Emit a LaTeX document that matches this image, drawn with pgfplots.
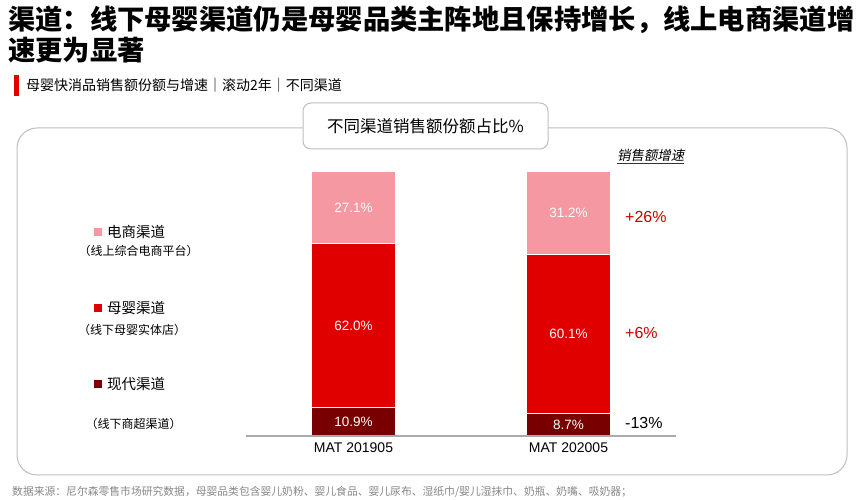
\documentclass[border=0pt]{standalone}
\usepackage{pgfplots}
\pgfplotsset{compat=1.18}
\usepackage{fontspec}
\setmainfont{Liberation Sans}
\newfontfamily\cjk{Noto Sans CJK SC}
\newfontfamily\cjkit{Noto Sans CJK SC}[FakeSlant=0.2]
\definecolor{cpink}{RGB}{245,152,162}
\definecolor{cred}{RGB}{224,0,0}
\definecolor{cdark}{RGB}{120,0,0}
\definecolor{cgrowth}{RGB}{204,0,0}
\definecolor{cframe}{RGB}{190,190,190}
\definecolor{caxis}{RGB}{170,170,170}
\definecolor{cfoot}{RGB}{135,135,135}
\begin{document}
\begin{tikzpicture}[x=1pt,y=1pt]
\useasboundingbox (0,0) rectangle (865,500);
% title
\node[anchor=west, inner sep=0] at (8,480) {\cjk\bfseries\fontsize{27.3}{30}\selectfont 渠道：线下母婴渠道仍是母婴品类主阵地且保持增长，线上电商渠道增};
\node[anchor=west, inner sep=0] at (8,450) {\cjk\bfseries\fontsize{27.3}{30}\selectfont 速更为显著};
% subtitle
\fill[cred] (14,404) rectangle (19,425);
\node[anchor=west, inner sep=0] at (26,415) {\cjk\fontsize{14}{16}\selectfont 母婴快消品销售额份额与增速｜滚动2年｜不同渠道};
% frames
\draw[cframe, line width=1pt, rounded corners=20pt] (17,25) rectangle (847,372);
\draw[cframe, line width=1pt, fill=white, rounded corners=8pt] (303,351) rectangle (548,397);
\node at (425.5,374) {\cjk\fontsize{16.5}{18}\selectfont 不同渠道销售额份额占比\%};
\begin{axis}[
  at={(246pt,64pt)}, anchor=south west,
  scale only axis, width=430pt, height=264pt,
  xmin=-0.5, xmax=1.5, ymin=0, ymax=100,
  ybar stacked, bar width=84pt,
  axis y line=none, axis x line*=bottom,
  x axis line style={draw=caxis, line width=2pt, -},
  xtick={0,1}, xticklabels={MAT 201905, MAT 202005},
  xtick style={draw=none}, major tick length=0pt,
  xticklabel style={font=\fontsize{14}{16}\selectfont, yshift=-3pt},
  clip=false, axis on top,
]
\addplot[fill=cdark, draw=white, line width=1pt] coordinates {(0,10.9) (1,8.7)};
\addplot[fill=cred, draw=white, line width=1pt] coordinates {(0,62.0) (1,60.1)};
\addplot[fill=cpink, draw=white, line width=1pt] coordinates {(0,27.1) (1,31.2)};
\coordinate (a1) at (axis cs:0,86.45);
\coordinate (a2) at (axis cs:0,41.9);
\coordinate (a3) at (axis cs:0,5.45);
\coordinate (b1) at (axis cs:1,84.4);
\coordinate (b2) at (axis cs:1,38.75);
\coordinate (b3) at (axis cs:1,4.35);
\end{axis}
\begin{scope}[every node/.style={text=white, font=\fontsize{13.5}{15}\selectfont}]
\node at (a1) {27.1\%};
\node at (a2) {62.0\%};
\node at (a3) {10.9\%};
\node at (b1) {31.2\%};
\node at (b2) {60.1\%};
\node at (b3) {8.7\%};
\end{scope}
% growth
\node[anchor=west, inner sep=0] at (617,345) {\cjkit\fontsize{13.4}{15}\selectfont 销售额增速};
\draw[black!80, line width=0.6pt] (617,337) -- (684,337);
\node[anchor=west, inner sep=0, text=cgrowth] at (625,283) {\fontsize{16}{18}\selectfont +26\%};
\node[anchor=west, inner sep=0, text=cgrowth] at (625,167) {\fontsize{16}{18}\selectfont +6\%};
\node[anchor=west, inner sep=0] at (625,77) {\fontsize{16}{18}\selectfont -13\%};
% legend
\fill[cpink] (94,264) rectangle (102,272);
\node[anchor=west, inner sep=0] at (107,268) {\cjk\fontsize{14.5}{16}\selectfont 电商渠道};
\node[inner sep=0] at (138.5,249) {\cjk\fontsize{12}{13}\selectfont （线上综合电商平台）};
\fill[cred] (94,188) rectangle (102,196);
\node[anchor=west, inner sep=0] at (107,192) {\cjk\fontsize{14.5}{16}\selectfont 母婴渠道};
\node[inner sep=0] at (132,170) {\cjk\fontsize{12}{13}\selectfont （线下母婴实体店）};
\fill[cdark] (94,112) rectangle (102,120);
\node[anchor=west, inner sep=0] at (107,116) {\cjk\fontsize{14.5}{16}\selectfont 现代渠道};
\node[inner sep=0] at (133.5,76) {\cjk\fontsize{12}{13}\selectfont （线下商超渠道）};
% footnote
\node[anchor=west, inner sep=0, text=cfoot] at (12,8) {\cjk\fontsize{10.8}{12}\selectfont 数据来源：尼尔森零售市场研究数据，母婴品类包含婴儿奶粉、婴儿食品、婴儿尿布、湿纸巾/婴儿湿抹巾、奶瓶、奶嘴、吸奶器；};
\end{tikzpicture}
\end{document}
